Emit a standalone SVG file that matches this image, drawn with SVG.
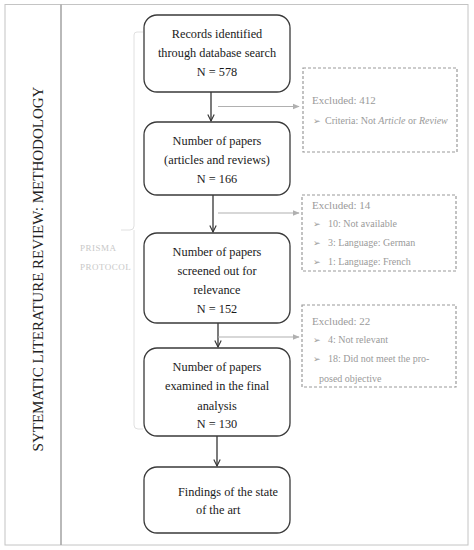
<svg xmlns="http://www.w3.org/2000/svg" width="474" height="550" viewBox="0 0 474 550">
<defs>
<style>
.box{fill:#fff;stroke:#3a3a3a;stroke-width:1.3}
.ex{fill:#fff;stroke:#9a9a9a;stroke-width:1.2;stroke-dasharray:3,2}
.t{font-family:"Liberation Serif",serif;font-size:12.3px;fill:#1a1a1a;text-anchor:middle}
.et{font-family:"Liberation Serif",serif;font-size:11px;fill:#9a9a9a}
.bt{font-family:"Liberation Serif",serif;font-size:10px;fill:#9a9a9a}
.bu{font-family:"DejaVu Sans",sans-serif;font-size:9px;fill:#9a9a9a}
.ar{fill:none;stroke:#333;stroke-width:1.3}
.ga{fill:none;stroke:#b0b0b0;stroke-width:1.2}
</style>
<marker id="open" viewBox="0 0 10 10" refX="9" refY="5" markerWidth="8" markerHeight="8" orient="auto" markerUnits="userSpaceOnUse">
<path d="M1 1 L9 5 L1 9" fill="none" stroke="#333" stroke-width="1.4"/>
</marker>
<marker id="gray" viewBox="0 0 10 10" refX="9" refY="5" markerWidth="7" markerHeight="7" orient="auto" markerUnits="userSpaceOnUse">
<path d="M0 1 L10 5 L0 9 Z" fill="#b0b0b0"/>
</marker>
</defs>
<rect width="474" height="550" fill="#fff"/>
<g id="frame">
<rect x="5" y="4.5" width="463" height="540.5" fill="none" stroke="#c4c4c4" stroke-width="1"/>
<line x1="61" y1="4.5" x2="61" y2="545" stroke="#a8a8a8" stroke-width="1.6"/>
<text transform="translate(43 269) rotate(-90)" font-family="Liberation Serif,serif" font-size="15" fill="#222" text-anchor="middle">SYTEMATIC LITERATURE REVIEW: METHODOLOGY</text>
</g>
<g id="prisma">
<path d="M143 32 H137 Q134 32 134 35 V226 Q134 230 130 230 H121 M134 230 V425 Q134 429 138 429 H143" fill="none" stroke="#e0e0e0" stroke-width="1"/>
<text x="80" y="251" font-family="Liberation Serif,serif" font-size="9" fill="#c8c8c8" letter-spacing="0.5">PRISMA</text>
<text x="80" y="270" font-family="Liberation Serif,serif" font-size="9" fill="#c8c8c8" letter-spacing="0.5">PROTOCOL</text>
</g>
<g id="connectors">
<line class="ar" x1="211" y1="92" x2="211" y2="121" marker-end="url(#open)"/>
<line class="ar" x1="213" y1="195" x2="213" y2="232" marker-end="url(#open)"/>
<line class="ar" x1="218" y1="323" x2="218" y2="347" marker-end="url(#open)"/>
<line class="ar" x1="217" y1="436" x2="217" y2="466" marker-end="url(#open)"/>
<line class="ga" x1="218" y1="106.5" x2="299" y2="106.5" marker-end="url(#gray)"/>
<line class="ga" x1="218" y1="213" x2="299" y2="213" marker-end="url(#gray)"/>
<line class="ga" x1="218" y1="337" x2="299" y2="337" marker-end="url(#gray)"/>
</g>
<g id="n1">
<rect class="box" x="144" y="15" width="146" height="77" rx="13"/>
<text class="t" x="217" y="38">Records identified</text>
<text class="t" x="217" y="57">through database search</text>
<text class="t" x="217" y="76">N = 578</text>
</g>
<g id="n2">
<rect class="box" x="144" y="122" width="146" height="73" rx="13"/>
<text class="t" x="217" y="145">Number of papers</text>
<text class="t" x="217" y="164">(articles and reviews)</text>
<text class="t" x="217" y="183">N = 166</text>
</g>
<g id="n3">
<rect class="box" x="144" y="233" width="146" height="90" rx="13"/>
<text class="t" x="217" y="256">Number of papers</text>
<text class="t" x="217" y="275">screened out for</text>
<text class="t" x="217" y="294">relevance</text>
<text class="t" x="217" y="313">N = 152</text>
</g>
<g id="n4">
<rect class="box" x="144" y="348" width="146" height="88" rx="13"/>
<text class="t" x="217" y="371">Number of papers</text>
<text class="t" x="217" y="390">examined in the final</text>
<text class="t" x="217" y="410">analysis</text>
<text class="t" x="217" y="428">N = 130</text>
</g>
<g id="n5">
<rect class="box" x="144" y="467" width="146" height="66" rx="13"/>
<text class="t" x="178" y="496" style="text-anchor:start">Findings of the state</text>
<text class="t" x="196" y="514" style="text-anchor:start">of the art</text>
</g>
<g id="ex1">
<rect class="ex" x="303" y="68" width="154" height="84"/>
<text class="et" x="312" y="104">Excluded: 412</text>
<text class="bu" x="313" y="124">➢</text>
<text class="bt" x="325" y="124">Criteria: Not <tspan font-style="italic">Article</tspan> or <tspan font-style="italic">Review</tspan></text>
</g>
<g id="ex2">
<rect class="ex" x="302" y="195" width="154" height="76"/>
<text class="et" x="312" y="209">Excluded: 14</text>
<text class="bu" x="313" y="227">➢</text>
<text class="bt" x="328" y="227">10: Not available</text>
<text class="bu" x="313" y="246">➢</text>
<text class="bt" x="328" y="246">3: Language: German</text>
<text class="bu" x="313" y="265">➢</text>
<text class="bt" x="328" y="265">1: Language: French</text>
</g>
<g id="ex3">
<rect class="ex" x="302" y="305" width="154" height="82"/>
<text class="et" x="312" y="325">Excluded: 22</text>
<text class="bu" x="313" y="343">➢</text>
<text class="bt" x="328" y="343">4: Not relevant</text>
<text class="bu" x="313" y="362">➢</text>
<text class="bt" x="328" y="362">18: Did not meet the pro-</text>
<text class="bt" x="319" y="382">posed objective</text>
</g>
</svg>
